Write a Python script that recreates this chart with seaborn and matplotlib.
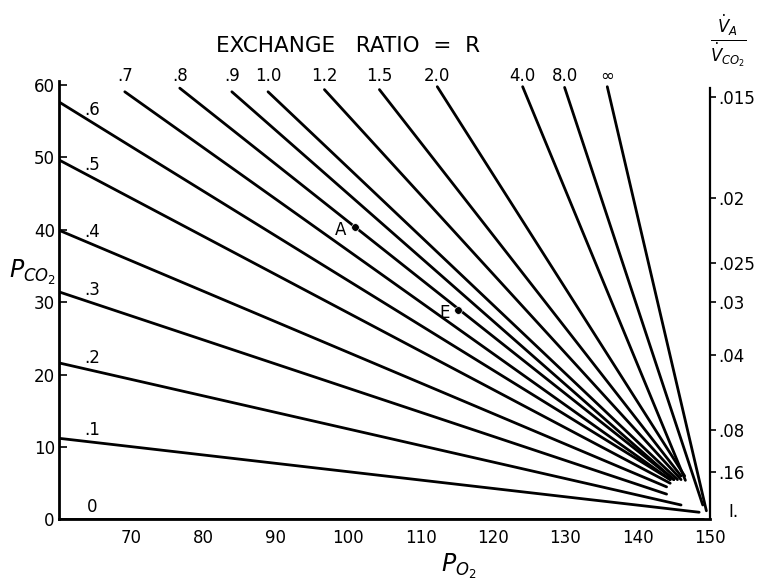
import numpy as np
import pandas as pd
import matplotlib
matplotlib.use('Agg')
import matplotlib.pyplot as plt
import seaborn as sns

# Exchange-ratio lines: start (upper/left end) and end (near inspired point)
r_labels = ['0', '.1', '.2', '.3', '.4', '.5', '.6', '.7', '.8', '.9', '1.0', '1.2', '1.5', '2.0', '4.0', '8.0', '∞']
start_po2 = [60, 60, 60, 60, 60, 60, 60, 69.1, 76.7, 83.9, 88.9, 96.7, 104.3, 112.3, 124.1, 129.9, 135.8]
start_pco2 = [0, 11.2, 21.6, 31.4, 39.9, 49.6, 57.6, 59.0, 59.5, 59.0, 59.0, 59.3, 59.3, 59.7, 59.7, 59.6, 59.7]
end_po2 = [149.0, 148.5, 146.0, 144.0, 144.0, 144.5, 144.5, 144.5, 145.0, 145.0, 145.5, 146.0, 146.0, 146.5, 146.6, 149.0, 149.5]
end_pco2 = [0.0, 1.0, 2.0, 3.5, 4.5, 5.0, 5.5, 5.5, 5.5, 5.5, 5.5, 5.5, 6.0, 6.0, 5.4, 2.0, 1.2]

# x / y ticks
x_ticks = [60, 70, 80, 90, 100, 110, 120, 130, 140, 150]
x_ticklabels = ['', '70', '80', '90', '100', '110', '120', '130', '140', '150']
y_ticks = [0, 10, 20, 30, 40, 50, 60]

# right axis: VA/VCO2 scale
va_ticks = [58.3, 44.3, 35.4, 30.0, 22.7, 12.3, 6.6]
va_labels = ['.015', '.02', '.025', '.03', '.04', '.08', '.16']

# marked points
pt_labels = ['A', 'E']
pt_po2 = [100.9, 115.2]
pt_pco2 = [40.3, 28.9]

sns.set_theme(style='white')
plt.rcParams['font.family'] = ['DejaVu Sans']
plt.rcParams['text.color'] = 'black'
plt.rcParams['xtick.color'] = 'black'
plt.rcParams['ytick.color'] = 'black'
plt.rcParams['xtick.labelcolor'] = 'black'
plt.rcParams['ytick.labelcolor'] = 'black'

rows = []
for lab, x0, y0, x1, y1 in zip(r_labels, start_po2, start_pco2, end_po2, end_pco2):
    rows.append({'R': lab, 'PO2': x0, 'PCO2': y0})
    rows.append({'R': lab, 'PO2': x1, 'PCO2': y1})
df = pd.DataFrame(rows)

fig = plt.figure(figsize=(7.65, 5.86), dpi=100)
ax = fig.add_axes([0.0771, 0.1135, 0.851, 0.767])

sns.lineplot(data=df, x='PO2', y='PCO2', units='R', estimator=None, sort=False,
             color='black', linewidth=2.0, ax=ax, legend=False)

pts = pd.DataFrame({'lab': pt_labels, 'PO2': pt_po2, 'PCO2': pt_pco2})
sns.scatterplot(data=pts, x='PO2', y='PCO2', color='black', s=30, ax=ax, legend=False, zorder=5)
for lab, x, y in zip(pt_labels, pt_po2, pt_pco2):
    ax.text(x - 1.2, y - 0.4, lab, ha='right', va='center', fontsize=12)

ax.set_xlim(60, 150)
ax.set_ylim(0, 62)
ax.set_xticks(x_ticks)
ax.set_xticklabels(x_ticklabels)
ax.set_yticks(y_ticks)
ax.set_yticklabels([str(v) for v in y_ticks])
ax.tick_params(axis='x', direction='out', length=5, width=1.2, labelsize=12, pad=2, color='black')
ax.tick_params(axis='y', direction='in', length=6, width=1.2, labelsize=12, pad=3, color='black')
ax.set_xlabel('')
ax.set_ylabel('')

for s in ['top', 'right']:
    ax.spines[s].set_visible(False)
ax.spines['left'].set_bounds(0, 60.5)
for s in ['left', 'bottom']:
    ax.spines[s].set_color('black')
    ax.spines[s].set_linewidth(2.0)

# labels for R lines
for lab, x0, y0, x1, y1 in zip(r_labels, start_po2, start_pco2, end_po2, end_pco2):
    if x0 <= 60.01:
        xl = 64.6
        yl = y0 + (y1 - y0) * (xl - x0) / (x1 - x0) + 0.5
        ax.text(xl, yl, lab, ha='center', va='bottom', fontsize=12)
    else:
        ax.text(x0, 59.9, lab, ha='center', va='bottom', fontsize=12)

ax.text(100, 64.0, 'EXCHANGE   RATIO  =  R', ha='center', va='bottom', fontsize=15.5)

# right axis
ax2 = ax.twinx()
ax2.set_ylim(0, 62)
ax2.set_yticks(va_ticks)
ax2.set_yticklabels(va_labels)
ax2.tick_params(axis='y', direction='out', length=4, width=1.2, labelsize=12, pad=2, color='black')
for s in ['top', 'left', 'bottom']:
    ax2.spines[s].set_visible(False)
ax2.spines['right'].set_bounds(0, 59.5)
ax2.spines['right'].set_color('black')
ax2.spines['right'].set_linewidth(1.6)
ax2.grid(False)

ax.text(152.6, 1.0, 'I.', ha='left', va='center', fontsize=12)

# axis titles
fig.text(0.042, 0.535, r'$P_{CO_2}$', ha='center', va='center', fontsize=17)
fig.text(0.60, 0.033, r'$P_{O_2}$', ha='center', va='center', fontsize=17)
fig.text(0.952, 0.93, r'$\frac{\dot{V}_A}{\dot{V}_{CO_2}}$', ha='center', va='center', fontsize=17)

fig.savefig('out.png', dpi=100)
